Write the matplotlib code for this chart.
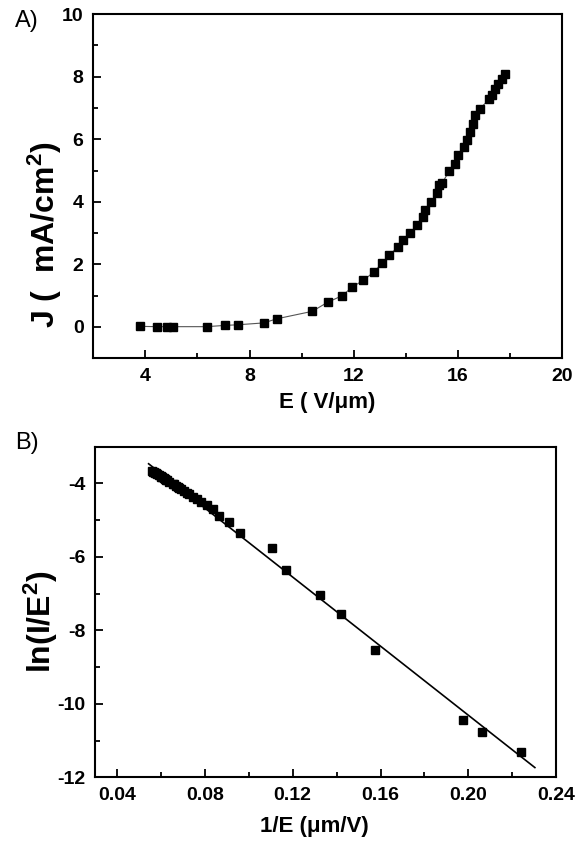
import numpy as np
import matplotlib
matplotlib.use("Agg")
import matplotlib.pyplot as plt
from matplotlib.ticker import MultipleLocator

plt.rcParams['font.family'] = ['Liberation Sans', 'DejaVu Sans']
plt.rcParams['font.weight'] = 'bold'
plt.rcParams['axes.labelweight'] = 'bold'
plt.rcParams['axes.unicode_minus'] = False
plt.rcParams['mathtext.fontset'] = 'custom'
plt.rcParams['mathtext.rm'] = 'Liberation Sans:bold'
plt.rcParams['mathtext.bf'] = 'Liberation Sans:bold'

# ---- panel A: J-E curve ----
field_E = [3.80, 4.45, 4.85, 5.06, 6.35, 7.05, 7.54, 8.55, 9.04, 10.41, 11.00,
           11.56, 11.95, 12.37, 12.78, 13.08, 13.37, 13.69, 13.88, 14.17, 14.42,
           14.65, 14.74, 14.97, 15.19, 15.29, 15.40, 15.67, 15.90, 16.00, 16.22,
           16.35, 16.47, 16.60, 16.67, 16.85, 17.20, 17.31, 17.43, 17.56, 17.69, 17.82]
current_J = [0.02, 0.01, 0.01, 0.01, 0.01, 0.05, 0.07, 0.13, 0.26, 0.50, 0.79,
             1.00, 1.28, 1.49, 1.76, 2.03, 2.29, 2.56, 2.77, 2.99, 3.25,
             3.52, 3.75, 4.00, 4.27, 4.53, 4.60, 4.99, 5.22, 5.49, 5.76,
             5.99, 6.24, 6.50, 6.77, 6.98, 7.27, 7.41, 7.59, 7.76, 7.91, 8.08]

# ---- panel B: Fowler-Nordheim plot ----
inv_E = [0.0561, 0.0565, 0.0569, 0.0574, 0.0578, 0.0581, 0.0593, 0.0600, 0.0602,
         0.0607, 0.0612, 0.0617, 0.0625, 0.0629, 0.0638, 0.0654, 0.0658, 0.0668,
         0.0678, 0.0683, 0.0693, 0.0706, 0.0720, 0.0730, 0.0748, 0.0765, 0.0782,
         0.0808, 0.0837, 0.0865, 0.0909, 0.0960, 0.1106, 0.1170, 0.1326, 0.1418,
         0.1575, 0.1976, 0.2060, 0.2242]
ln_IE2 = [-3.66, -3.68, -3.70, -3.71, -3.73, -3.74, -3.78, -3.81, -3.83,
          -3.84, -3.86, -3.88, -3.91, -3.92, -3.96, -4.02, -4.03, -4.07,
          -4.11, -4.13, -4.16, -4.21, -4.27, -4.30, -4.37, -4.44, -4.50,
          -4.60, -4.71, -4.90, -5.04, -5.36, -5.77, -6.36, -7.04, -7.56,
          -8.52, -10.45, -10.77, -11.30]
fit_slope = -46.96
fit_intercept = -0.915
fit_range = [0.0544, 0.2303]

fig = plt.figure(figsize=(5.83, 8.5), dpi=100)
axA = fig.add_axes([0.160, 0.5785, 0.804, 0.405])
axB = fig.add_axes([0.163, 0.0853, 0.791, 0.3894])


def style(ax):
    for s in ax.spines.values():
        s.set_linewidth(1.5)
    ax.tick_params(which='both', direction='in', top=False, right=False, width=1.3,
                   labelsize=14)
    ax.tick_params(which='major', length=6, pad=7)
    ax.tick_params(which='minor', length=3.5)


# panel A
axA.plot(field_E, current_J, color='#555555', lw=0.8, marker='s', ms=6,
         mfc='black', mec='black')
axA.set_xlim(2, 20)
axA.set_ylim(-1, 10)
axA.xaxis.set_major_locator(MultipleLocator(4))
axA.xaxis.set_minor_locator(MultipleLocator(2))
axA.yaxis.set_major_locator(MultipleLocator(2))
axA.yaxis.set_minor_locator(MultipleLocator(1))
axA.set_xticks([4, 8, 12, 16, 20])
style(axA)
axA.set_xlabel('E ( V/μm)', fontsize=16, fontweight='bold', labelpad=5)
axA.set_ylabel(r'J (  mA/cm$\mathbf{^2}$)', fontsize=23, fontweight='bold')
axA.yaxis.set_label_coords(-0.062, 0.36)

# panel B
axB.plot(inv_E, ln_IE2, ls='none', marker='s', ms=6, mfc='black', mec='black')
fit_x = np.array(fit_range)
axB.plot(fit_x, fit_slope * fit_x + fit_intercept, color='black', lw=1.2)
axB.set_xlim(0.03, 0.24)
axB.set_ylim(-12, -3)
axB.xaxis.set_major_locator(MultipleLocator(0.04))
axB.xaxis.set_minor_locator(MultipleLocator(0.02))
axB.yaxis.set_major_locator(MultipleLocator(2))
axB.yaxis.set_minor_locator(MultipleLocator(1))
axB.set_xticks([0.04, 0.08, 0.12, 0.16, 0.20, 0.24])
axB.set_xticklabels(['0.04', '0.08', '0.12', '0.16', '0.20', '0.24'])
axB.set_yticks([-12, -10, -8, -6, -4])
style(axB)
axB.set_xlabel('1/E (μm/V)', fontsize=16, fontweight='bold', labelpad=14)
axB.xaxis.set_label_coords(0.475, -0.115)
axB.set_ylabel(r'ln(I/E$\mathbf{^2}$)', fontsize=23, fontweight='bold')
axB.yaxis.set_label_coords(-0.075, 0.47)

fig.text(0.026, 0.975, 'A)', fontsize=17, fontweight='normal', ha='left', va='center')
fig.text(0.026, 0.479, 'B)', fontsize=17, fontweight='normal', ha='left', va='center')

fig.savefig('out.png', dpi=100)
